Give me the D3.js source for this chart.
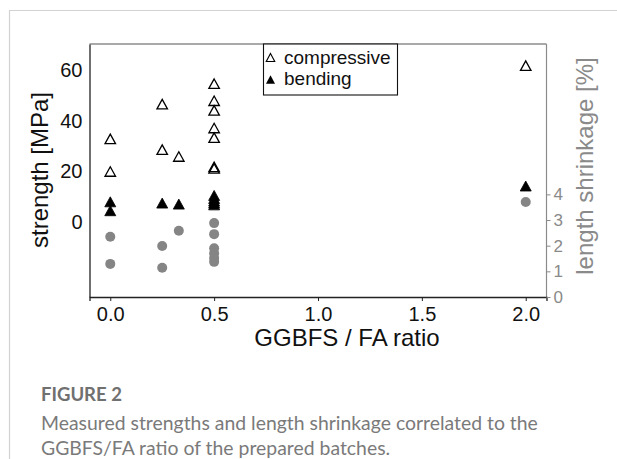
<!DOCTYPE html>
<html>
<head>
<meta charset="utf-8">
<script src="https://cdn.jsdelivr.net/npm/d3@7"></script>
<style>
  body { margin: 0; background: #fff; }
  svg { display: block; font-family: "Liberation Sans", Arial, sans-serif; }
  .caption { font-family: Lato, "Open Sans", sans-serif; }
</style>
</head>
<body>
<svg width="617" height="459"></svg>
<script>
// ratio GGBFS / FA for each batch, with the measured values
const compRatio = [0, 0, 0.25, 0.25, 0.33, 0.5, 0.5, 0.5, 0.5, 0.5, 0.5, 0.5, 2.0]
const compStrength = [32.8, 20.0, 46.5, 28.6, 25.9, 54.5, 47.8, 44.0, 37.1, 33.3, 21.8, 21.2, 61.6]

const bendRatio = [0, 0, 0.25, 0.33, 0.5, 0.5, 0.5, 0.5, 0.5, 2.0]
const bendStrength = [8.1, 4.6, 7.6, 7.2, 10.6, 9.4, 8.4, 7.6, 6.9, 14.3]

const shrinkRatio = [0, 0, 0.25, 0.25, 0.33, 0.5, 0.5, 0.5, 0.5, 0.5, 0.5, 2.0]
const shrinkage = [2.35, 1.29, 1.99, 1.14, 2.58, 2.88, 2.45, 1.9, 1.7, 1.52, 1.37, 3.7]

const xTicks = [0, 0.5, 1.0, 1.5, 2.0]
const yTicks = [0, 20, 40, 60]
const rTicks = [0, 1, 2, 3, 4]

const plot = {left: 89.5, right: 546.5, top: 44, bottom: 297}

const svg = d3.select('svg')

// card border
svg.append('path')
  .attr('d', `M9.5,459 V10.5 H617`)
  .attr('fill', 'none')
  .attr('stroke', '#d2d2d2')
  .attr('stroke-width', 1.2)

const x = d3.scaleLinear().domain([-0.1, 2.1]).range([plot.left, plot.right])
const y = d3.scaleLinear().domain([-29.3, 70.1]).range([plot.bottom, plot.top])
const yr = d3.scaleLinear().domain([0, 9.86]).range([plot.bottom, plot.top])

// frame
svg.append('line').attr('x1', plot.left).attr('x2', plot.right)
  .attr('y1', plot.top).attr('y2', plot.top).attr('stroke', '#555').attr('stroke-width', 1.2)
svg.append('line').attr('x1', plot.right).attr('x2', plot.right)
  .attr('y1', plot.top).attr('y2', plot.bottom).attr('stroke', '#8a8a8a').attr('stroke-width', 1.2)

// bottom axis
const gx = svg.append('g')
  .attr('transform', `translate(0,${plot.bottom})`)
  .call(d3.axisBottom(x).tickValues(xTicks).tickFormat(d3.format('.1f')).tickSize(4).tickPadding(6))
gx.select('.domain').attr('stroke', '#222').attr('stroke-width', 1.3)
gx.selectAll('.tick line').attr('stroke', '#222')
gx.selectAll('text').attr('font-size', 20).attr('fill', '#111')
  .attr('font-family', '"Liberation Sans", Arial, sans-serif')

// left axis
const gy = svg.append('g')
  .attr('transform', `translate(${plot.left},0)`)
  .call(d3.axisLeft(y).tickValues(yTicks).tickSize(0).tickPadding(7))
gy.select('.domain').attr('stroke', '#222').attr('stroke-width', 1.3)
gy.selectAll('text').attr('font-size', 20).attr('fill', '#111')
  .attr('font-family', '"Liberation Sans", Arial, sans-serif')

// right axis (shrinkage)
const gr = svg.append('g')
  .attr('transform', `translate(${plot.right},0)`)
  .call(d3.axisRight(yr).tickValues(rTicks).tickSize(4).tickPadding(3))
gr.select('.domain').remove()
gr.selectAll('.tick line').attr('stroke', '#8a8a8a')
gr.selectAll('text').attr('font-size', 17).attr('fill', '#8a8a8a')
  .attr('font-family', '"Liberation Sans", Arial, sans-serif')

// axis titles
svg.append('text')
  .attr('x', 347).attr('y', 346)
  .attr('text-anchor', 'middle')
  .attr('font-size', 24)
  .attr('fill', '#111')
  .text('GGBFS / FA ratio')

svg.append('text')
  .attr('transform', 'translate(48,170) rotate(-90)')
  .attr('text-anchor', 'middle')
  .attr('font-size', 24)
  .attr('fill', '#111')
  .text('strength [MPa]')

svg.append('text')
  .attr('transform', 'translate(593,166) rotate(-90)')
  .attr('text-anchor', 'middle')
  .attr('font-size', 24)
  .attr('fill', '#8a8a8a')
  .text('length shrinkage [%]')

// markers
const tri = (w, h) => `M0,${-h / 2} L${w / 2},${h / 2} L${-w / 2},${h / 2} Z`

svg.append('g').selectAll('circle')
  .data(d3.zip(shrinkRatio, shrinkage)).enter()
  .append('circle')
  .attr('cx', d => x(d[0]))
  .attr('cy', d => yr(d[1]))
  .attr('r', 5)
  .attr('fill', '#858585')

svg.append('g').selectAll('path')
  .data(d3.zip(bendRatio, bendStrength)).enter()
  .append('path')
  .attr('transform', d => `translate(${x(d[0])},${y(d[1])})`)
  .attr('d', tri(11, 10))
  .attr('fill', '#000')
  .attr('stroke', '#000')
  .attr('stroke-width', 0.8)

svg.append('g').selectAll('path')
  .data(d3.zip(compRatio, compStrength)).enter()
  .append('path')
  .attr('transform', d => `translate(${x(d[0])},${y(d[1])})`)
  .attr('d', tri(10.5, 9.5))
  .attr('fill', 'none')
  .attr('stroke', '#000')
  .attr('stroke-width', 1.3)

// legend
const lg = svg.append('g')
lg.append('rect')
  .attr('x', 263.5).attr('y', 44).attr('width', 134).attr('height', 51)
  .attr('fill', '#fff').attr('stroke', '#111').attr('stroke-width', 1.1)
lg.append('path').attr('transform', 'translate(270.5,57.5)').attr('d', tri(8.5, 8))
  .attr('fill', 'none').attr('stroke', '#000').attr('stroke-width', 1.1)
lg.append('path').attr('transform', 'translate(270.5,79.5)').attr('d', tri(9, 8.5))
  .attr('fill', '#000')
lg.append('text').attr('x', 284).attr('y', 63.5).attr('font-size', 19).attr('fill', '#111').text('compressive')
lg.append('text').attr('x', 284).attr('y', 85).attr('font-size', 19).attr('fill', '#111').text('bending')

// caption
svg.append('text').attr('class', 'caption')
  .attr('x', 41).attr('y', 401)
  .attr('font-size', 18.5).attr('font-weight', 'bold').attr('fill', '#707070')
  .text('FIGURE 2')
svg.append('text').attr('class', 'caption')
  .attr('x', 41).attr('y', 429.5)
  .attr('font-size', 19.4).attr('fill', '#7a7a7a')
  .text('Measured strengths and length shrinkage correlated to the')
svg.append('text').attr('class', 'caption')
  .attr('x', 41).attr('y', 454.5)
  .attr('font-size', 19.4).attr('fill', '#7a7a7a')
  .text('GGBFS/FA ratio of the prepared batches.')
</script>
</body>
</html>
